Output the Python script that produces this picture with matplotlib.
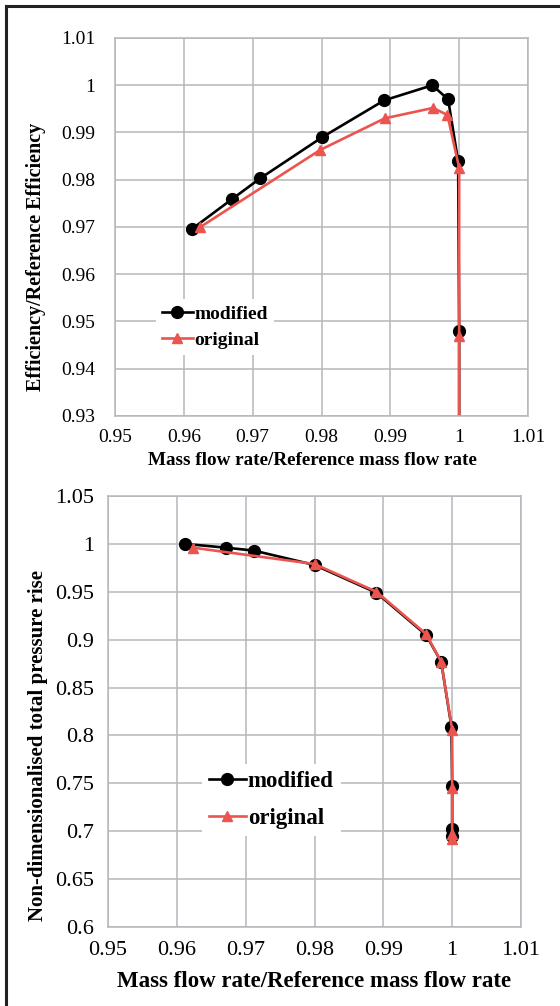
import numpy as np
import matplotlib
matplotlib.use('Agg')
import matplotlib.pyplot as plt
from matplotlib.lines import Line2D

plt.rcParams['font.family'] = ['Liberation Serif', 'DejaVu Serif']

# efficiency chart (top)
eff_mod_x = [0.9612, 0.9670, 0.9711, 0.9801, 0.9891, 0.9961, 0.9984, 0.99985, 1.0, 1.0]
eff_mod_y = [0.9696, 0.9759, 0.9803, 0.9890, 0.9968, 1.0000, 0.9970, 0.9839, 0.9479, 0.91]
eff_org_x = [0.9624, 0.9798, 0.9892, 0.9962, 0.9983, 1.0, 1.0, 1.0]
eff_org_y = [0.9700, 0.9863, 0.9930, 0.9952, 0.9937, 0.9825, 0.9470, 0.91]

# pressure rise chart (bottom)
pr_mod_x = [0.9612, 0.9672, 0.9712, 0.9800, 0.9890, 0.9962, 0.9984, 0.9999, 1.0, 1.0, 1.0]
pr_mod_y = [1.000, 0.996, 0.993, 0.978, 0.949, 0.905, 0.877, 0.809, 0.747, 0.702, 0.695]
pr_org_x = [0.9624, 0.9800, 0.9890, 0.9962, 0.9984, 1.0, 1.0, 1.0, 1.0]
pr_org_y = [0.996, 0.979, 0.950, 0.906, 0.877, 0.806, 0.745, 0.697, 0.692]

xticks = [0.95, 0.96, 0.97, 0.98, 0.99, 1.0, 1.01]
xtick_labels = ['0.95', '0.96', '0.97', '0.98', '0.99', '1', '1.01']
eff_yticks = [0.93, 0.94, 0.95, 0.96, 0.97, 0.98, 0.99, 1.0, 1.01]
eff_ylabels = ['0.93', '0.94', '0.95', '0.96', '0.97', '0.98', '0.99', '1', '1.01']
pr_yticks = [0.6, 0.65, 0.7, 0.75, 0.8, 0.85, 0.9, 0.95, 1.0, 1.05]
pr_ylabels = ['0.6', '0.65', '0.7', '0.75', '0.8', '0.85', '0.9', '0.95', '1', '1.05']

black = '#000000'
red = '#ec5450'
grid_c = '#b4b8bc'

W, H = 560, 1006
fig = plt.figure(figsize=(W / 100, H / 100), dpi=100)

# border on left and top of the picture
fig.add_artist(Line2D([6 / W, 6 / W], [0, 1 - 6 / H], color='#222222', lw=2.2, transform=fig.transFigure))
fig.add_artist(Line2D([6 / W, 1], [1 - 6 / H, 1 - 6 / H], color='#222222', lw=2.2, transform=fig.transFigure))


def style_axes(ax, yticks, ylabels, fs, xpad, ypad):
    ax.set_xlim(0.95, 1.01)
    ax.set_xticks(xticks)
    ax.set_xticklabels(xtick_labels)
    ax.set_yticks(yticks)
    ax.set_yticklabels(ylabels)
    ax.set_ylim(yticks[0], yticks[-1])
    ax.grid(True, color=grid_c, lw=1.1)
    ax.set_axisbelow(True)
    for s in ax.spines.values():
        s.set_color(grid_c)
        s.set_linewidth(1.1)
    ax.tick_params(axis='x', length=0, pad=xpad, labelsize=fs)
    ax.tick_params(axis='y', length=0, pad=ypad, labelsize=fs)


def white_legend(leg):
    leg.get_frame().set_facecolor('white')
    leg.get_frame().set_edgecolor('none')
    leg.get_frame().set_alpha(1)
    for t in leg.get_texts():
        t.set_fontweight('bold')


# top chart
ax1 = fig.add_axes([115 / W, 1 - 416 / H, 413 / W, 378 / H])
style_axes(ax1, eff_yticks, eff_ylabels, 14, 9, 14)
ax1.plot(eff_mod_x, eff_mod_y, '-o', color=black, lw=1.9, ms=8.5, label='modified')
ax1.plot(eff_org_x, eff_org_y, '-^', color=red, lw=1.9, ms=7.5, label='original')
ax1.set_xlabel('Mass flow rate/Reference mass flow rate', fontsize=13.8, fontweight='bold')
ax1.xaxis.set_label_coords(0.477, -0.095)
ax1.set_ylabel('Efficiency/Reference Efficiency', fontsize=14.5, fontweight='bold')
ax1.yaxis.set_label_coords(-0.168, 0.42)
leg1 = ax1.legend(loc='upper left', bbox_to_anchor=(0.075, 0.335), fontsize=14, frameon=True,
                  handlelength=1.6, handletextpad=0.1, borderpad=0.3, labelspacing=0.45)
white_legend(leg1)

# bottom chart
ax2 = fig.add_axes([108 / W, 1 - 927 / H, 413 / W, 431 / H])
style_axes(ax2, pr_yticks, pr_ylabels, 16, 10, 10)
ax2.plot(pr_mod_x, pr_mod_y, '-o', color=black, lw=1.9, ms=8.5, label='modified')
ax2.plot(pr_org_x, pr_org_y, '-^', color=red, lw=1.9, ms=7.5, label='original')
ax2.set_xlabel('Mass flow rate/Reference mass flow rate', fontsize=16.5, fontweight='bold', labelpad=8)
ax2.set_ylabel('Non-dimensionalised total pressure rise', fontsize=15, fontweight='bold')
ax2.yaxis.set_label_coords(-0.145, 0.42)
leg2 = ax2.legend(loc='upper left', bbox_to_anchor=(0.2, 0.405), fontsize=16.5, frameon=True,
                  handlelength=1.6, handletextpad=0.1, borderpad=0.3, labelspacing=0.7)
white_legend(leg2)

fig.savefig('out.png', dpi=100)
